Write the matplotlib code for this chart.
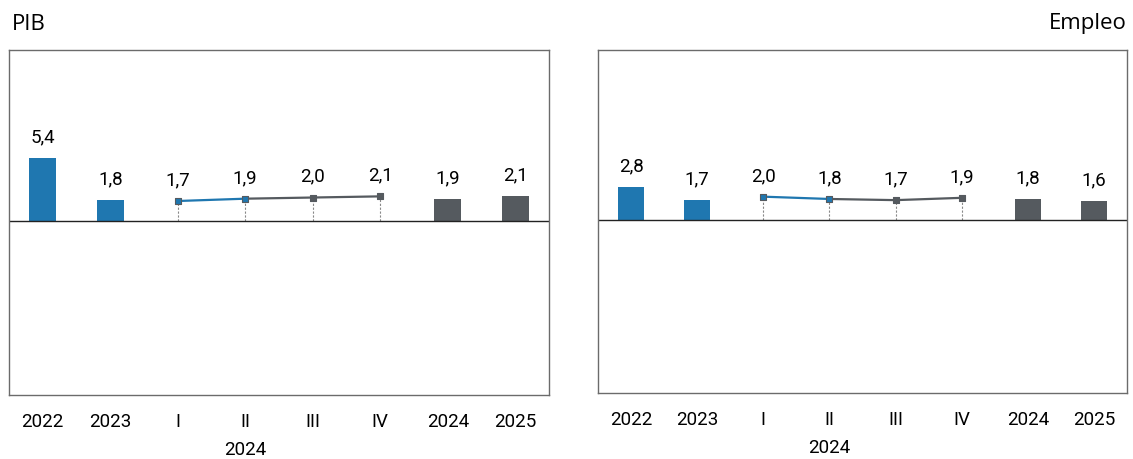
import numpy as np
import matplotlib
matplotlib.use('Agg')
import matplotlib.pyplot as plt

plt.rcParams['font.family'] = ['Roboto', 'DejaVu Sans']

# Datos
categorias = ['2022', '2023', 'I', 'II', 'III', 'IV', '2024', '2025']
pib = [5.4, 1.8, 1.7, 1.9, 2.0, 2.1, 1.9, 2.1]
empleo = [2.8, 1.7, 2.0, 1.8, 1.7, 1.9, 1.8, 1.6]

azul = '#1f77b0'
gris = '#555a5f'
marco = '#6b6b6b'

fig = plt.figure(figsize=(11.33, 4.6), dpi=100)
ax1 = fig.add_axes([9 / 1133, 1 - 396 / 460, 540 / 1133, 345 / 460])
ax2 = fig.add_axes([598 / 1133, 1 - 394 / 460, 529 / 1133, 343 / 460])


def panel(ax, valores):
    x = np.arange(len(categorias))
    # barras anuales
    barras = [0, 1, 6, 7]
    colores = [azul, azul, gris, gris]
    ax.bar(x[barras], [valores[i] for i in barras], width=0.4, color=colores, zorder=2)
    # trimestres 2024
    q = [2, 3, 4, 5]
    for i in q:
        ax.plot([x[i], x[i]], [0, valores[i]], color='#888888', lw=0.8, ls=(0, (2, 1.5)), zorder=1)
    ax.plot(x[2:4], valores[2:4], color=azul, lw=1.6, zorder=3)
    ax.plot(x[3:6], valores[3:6], color=gris, lw=1.6, zorder=3)
    ax.scatter(x[2:4], valores[2:4], marker='s', s=24, color=azul, edgecolor=gris, lw=0.8, zorder=4)
    ax.scatter(x[4:6], valores[4:6], marker='s', s=24, color=gris, edgecolor=gris, lw=0.8, zorder=4)
    for i, v in enumerate(valores):
        ax.text(x[i], v + 1.1, f'{v:.1f}'.replace('.', ','), ha='center', va='bottom', fontsize=13.5)
    ax.axhline(0, color='#222222', lw=1, zorder=2)
    ax.set_xlim(-0.5, 7.5)
    ax.set_ylim(-15, 14.7)
    ax.set_yticks([])
    ax.set_xticks(x)
    ax.set_xticklabels(categorias, fontsize=13.5)
    ax.tick_params(axis='x', length=0, pad=12)
    for s in ax.spines.values():
        s.set_color(marco)
        s.set_linewidth(1)
    ax.text(3, -54 / 345, '2024', transform=ax.get_xaxis_transform(), ha='center', va='center', fontsize=13.5)


panel(ax1, pib)
panel(ax2, empleo)

fig.text(12 / 1133, 1 - 24 / 460, 'PIB', ha='left', va='center', fontsize=16, family=['Open Sans'])
fig.text(1127 / 1133, 1 - 24 / 460, 'Empleo', ha='right', va='center', fontsize=16, family=['Open Sans'])

fig.savefig('out.png', dpi=100)
